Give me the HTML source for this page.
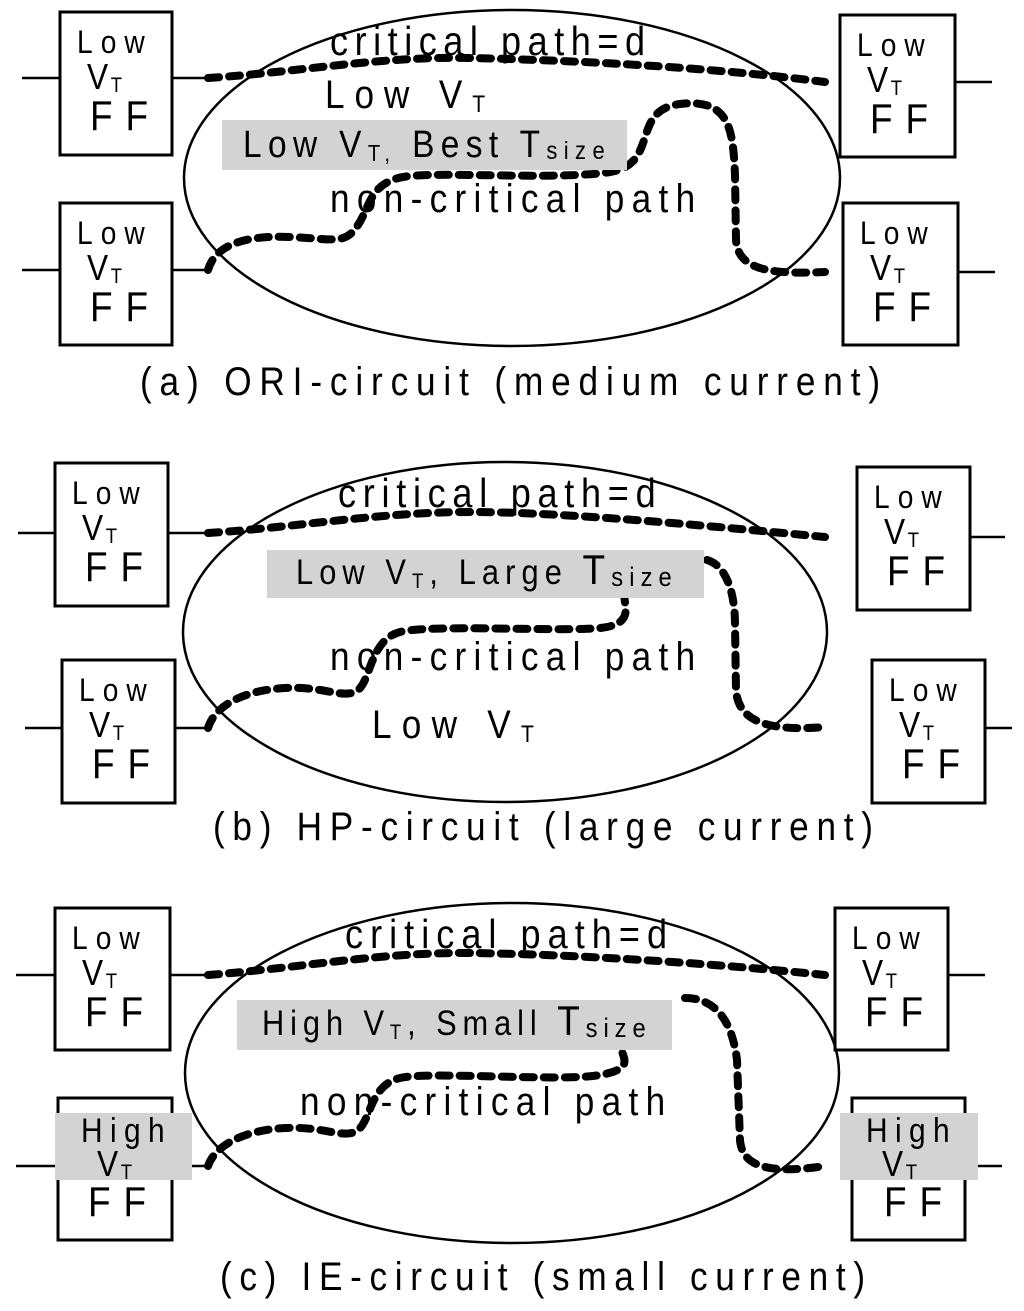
<!DOCTYPE html>
<html><head><meta charset="utf-8"><style>
html,body{margin:0;padding:0;background:#fff}
svg{display:block}
text{font-family:"Liberation Sans",sans-serif;fill:#000}
.d{fill:none;stroke:#000;stroke-width:8;stroke-dasharray:11 10;stroke-linecap:round}
.l{stroke:#000;stroke-width:2.5;fill:none}
.b{fill:#fff;stroke:#000;stroke-width:3}
.g{fill:#d3d3d3}
</style></head><body>
<svg width="1024" height="1311" viewBox="0 0 1024 1311" xmlns="http://www.w3.org/2000/svg">
<defs>
<g id="ff">
<text transform="translate(17 41) scale(.88 1)" font-size="32" textLength="77">Low</text>
<text transform="translate(27 77) scale(.88 1)" font-size="36">V<tspan font-size="21" dx="3" dy="3">T</tspan></text>
<text transform="translate(30 118) scale(.88 1)" font-size="42" textLength="66">FF</text>
</g>
</defs>

<!-- ===== Panel a ===== -->
<path class="l" d="M22 78H60M172 78H205M955 82H992M22 270H60M172 270H210M958 272H995"/>
<rect class="b" x="60" y="12" width="112" height="143"/>
<rect class="b" x="840" y="15" width="115" height="142"/>
<rect class="b" x="60" y="203" width="112" height="142"/>
<rect class="b" x="843" y="203" width="115" height="142"/>
<use href="#ff" x="60" y="12"/><use href="#ff" x="840" y="15"/>
<use href="#ff" x="60" y="203"/><use href="#ff" x="843" y="203"/>
<ellipse class="l" cx="512" cy="178" rx="328" ry="168" stroke-width="3"/>
<path class="d" d="M208 78C300 72 380 56 470 58S700 66 825 82"/>
<path class="d" d="M208 270C215 245 245 235 290 237S345 245 358 225S370 180 410 176S560 180 610 172S630 110 680 104S733 130 735 175L736 240C738 268 765 275 825 272"/>
<rect class="g" x="222" y="120" width="405" height="50"/>
<text transform="translate(330 55) scale(.88 1)" font-size="41" textLength="358">critical path=d</text>
<text transform="translate(325 108) scale(.88 1)" font-size="40" textLength="182">Low V<tspan font-size="24" dy="4">T</tspan></text>
<text transform="translate(243 157) scale(.88 1)" font-size="38" textLength="411">Low V<tspan font-size="23" dy="4">T,</tspan><tspan dy="-4"> Best T</tspan><tspan font-size="25" dy="2">size</tspan></text>
<text transform="translate(330 212) scale(.88 1)" font-size="40" textLength="415">non-critical path</text>
<text transform="translate(140 395) scale(.88 1)" font-size="40" textLength="841">(a) ORI-circuit (medium current)</text>

<!-- ===== Panel b ===== -->
<path class="l" d="M18 533H55M168 533H205M970 537H1005M25 728H62M175 728H210M985 728H1012"/>
<rect class="b" x="55" y="463" width="113" height="143"/>
<rect class="b" x="857" y="467" width="113" height="143"/>
<rect class="b" x="62" y="660" width="113" height="143"/>
<rect class="b" x="872" y="660" width="113" height="143"/>
<use href="#ff" x="55" y="463"/><use href="#ff" x="857" y="467"/>
<use href="#ff" x="62" y="660"/><use href="#ff" x="872" y="660"/>
<ellipse class="l" cx="505" cy="632" rx="322" ry="170" stroke-width="3"/>
<path class="d" d="M208 533C300 527 380 512 470 512S700 525 825 537"/>
<path class="d" d="M208 728C215 705 245 690 285 688S345 700 358 690S370 640 400 632S560 632 600 628S620 600 625 590"/>
<path class="d" d="M707 560C725 565 735 590 735 625L736 690C738 720 765 732 825 727"/>
<rect class="g" x="267" y="550" width="437" height="48"/>
<text transform="translate(338 507) scale(.88 1)" font-size="41" textLength="361">critical path=d</text>
<text transform="translate(296 584) scale(.88 1)" font-size="35" textLength="427">Low V<tspan font-size="21" dy="4">T</tspan><tspan dy="-4">, Large </tspan><tspan font-size="42">T</tspan><tspan font-size="27" dy="2">size</tspan></text>
<text transform="translate(330 670) scale(.88 1)" font-size="40" textLength="415">non-critical path</text>
<text transform="translate(372 738) scale(.88 1)" font-size="40" textLength="184">Low V<tspan font-size="24" dy="4">T</tspan></text>
<text transform="translate(213 840) scale(.88 1)" font-size="40" textLength="750">(b) HP-circuit  (large current)</text>

<!-- ===== Panel c ===== -->
<path class="l" d="M16 975H55M170 975H205M948 975H985M16 1166H58M192 1166H208M978 1166H1002"/>
<rect class="b" x="55" y="908" width="115" height="142"/>
<rect class="b" x="835" y="908" width="113" height="142"/>
<rect class="b" x="58" y="1098" width="114" height="142"/>
<rect class="b" x="852" y="1098" width="113" height="142"/>
<use href="#ff" x="55" y="908"/><use href="#ff" x="835" y="908"/>
<ellipse class="l" cx="512" cy="1073" rx="327" ry="170" stroke-width="3"/>
<path class="d" d="M208 975C300 968 380 952 470 953S700 962 825 975"/>
<path class="d" d="M208 1166C215 1145 245 1130 285 1128S345 1140 358 1130S370 1085 400 1078S560 1082 600 1075S618 1055 622 1045"/>
<path class="d" d="M685 998C715 998 732 1020 737 1060L740 1140C742 1165 765 1175 825 1166"/>
<rect class="g" x="237" y="1000" width="435" height="50"/>
<rect class="g" x="55" y="1113" width="137" height="67"/>
<rect class="g" x="840" y="1113" width="138" height="67"/>
<text transform="translate(81 1142) scale(.88 1)" font-size="34" textLength="95">High</text>
<text transform="translate(97 1176) scale(.88 1)" font-size="36">V<tspan font-size="21" dx="3" dy="3">T</tspan></text>
<text transform="translate(88 1216) scale(.88 1)" font-size="42" textLength="66">FF</text>
<text transform="translate(866 1142) scale(.88 1)" font-size="34" textLength="95">High</text>
<text transform="translate(882 1176) scale(.88 1)" font-size="36">V<tspan font-size="21" dx="3" dy="3">T</tspan></text>
<text transform="translate(884 1216) scale(.88 1)" font-size="42" textLength="66">FF</text>
<text transform="translate(345 948) scale(.88 1)" font-size="41" textLength="366">critical path=d</text>
<text transform="translate(262 1035) scale(.88 1)" font-size="35" textLength="436">High V<tspan font-size="21" dy="4">T</tspan><tspan dy="-4">, Small </tspan><tspan font-size="42">T</tspan><tspan font-size="27" dy="2">size</tspan></text>
<text transform="translate(300 1115) scale(.88 1)" font-size="40" textLength="415">non-critical path</text>
<text transform="translate(220 1290) scale(.88 1)" font-size="40" textLength="733">(c) IE-circuit  (small current)</text>
</svg>
</body></html>
